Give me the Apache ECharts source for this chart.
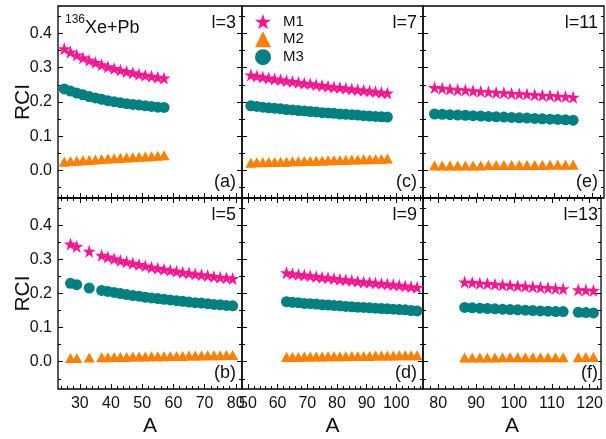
<!DOCTYPE html>
<html>
<head>
<meta charset="utf-8">
<script src="https://cdn.jsdelivr.net/npm/echarts@6/dist/echarts.min.js"></script>
<style>
  html, body { margin: 0; padding: 0; background: #fff; }
  #main { width: 606px; height: 439px; }
</style>
</head>
<body>
<div id="main"></div>
<script>
// A values and RCI for the three models, one set per panel
const aA = [25, 27, 29, 31, 33, 35, 37, 39, 41, 43, 45, 47, 49, 51, 53, 55, 57];
const m1A = [0.355, 0.346, 0.337, 0.329, 0.322, 0.315, 0.309, 0.303, 0.298, 0.293, 0.289, 0.285, 0.281, 0.278, 0.275, 0.272, 0.270];
const m2A = [0.026, 0.028, 0.029, 0.030, 0.031, 0.032, 0.034, 0.035, 0.036, 0.037, 0.038, 0.039, 0.040, 0.041, 0.042, 0.043, 0.045];
const m3A = [0.238, 0.232, 0.226, 0.221, 0.216, 0.212, 0.208, 0.204, 0.201, 0.198, 0.195, 0.193, 0.191, 0.189, 0.187, 0.185, 0.184];

const aB = [27, 29, 33, 37, 39, 41, 43, 45, 47, 49, 51, 53, 55, 57, 59, 61, 63, 65, 67, 69, 71, 73, 75, 77, 79];
const m1B = [0.345, 0.338, 0.324, 0.312, 0.307, 0.302, 0.297, 0.293, 0.289, 0.285, 0.281, 0.277, 0.274, 0.271, 0.268, 0.265, 0.262, 0.260, 0.257, 0.255, 0.253, 0.250, 0.248, 0.246, 0.244];
const m2B = [0.011, 0.011, 0.012, 0.013, 0.013, 0.014, 0.014, 0.014, 0.015, 0.015, 0.015, 0.016, 0.016, 0.016, 0.017, 0.017, 0.017, 0.018, 0.018, 0.018, 0.019, 0.019, 0.019, 0.020, 0.020];
const m3B = [0.230, 0.226, 0.216, 0.209, 0.206, 0.203, 0.200, 0.197, 0.194, 0.192, 0.189, 0.187, 0.185, 0.183, 0.181, 0.179, 0.177, 0.175, 0.173, 0.172, 0.170, 0.168, 0.167, 0.165, 0.164];

const aC = [51, 53, 55, 57, 59, 61, 63, 65, 67, 69, 71, 73, 75, 77, 79, 81, 83, 85, 87, 89, 91, 93, 95, 97];
const m1C = [0.279, 0.276, 0.273, 0.270, 0.267, 0.265, 0.262, 0.260, 0.257, 0.255, 0.253, 0.250, 0.248, 0.246, 0.244, 0.242, 0.240, 0.238, 0.236, 0.234, 0.232, 0.230, 0.228, 0.226];
const m2C = [0.023, 0.024, 0.024, 0.025, 0.025, 0.026, 0.026, 0.027, 0.027, 0.028, 0.028, 0.029, 0.029, 0.030, 0.030, 0.031, 0.031, 0.032, 0.032, 0.033, 0.033, 0.034, 0.034, 0.035];
const m3C = [0.189, 0.187, 0.185, 0.183, 0.182, 0.180, 0.178, 0.177, 0.175, 0.174, 0.172, 0.171, 0.169, 0.168, 0.167, 0.165, 0.164, 0.163, 0.162, 0.160, 0.159, 0.158, 0.157, 0.156];

const aD = [63, 65, 67, 69, 71, 73, 75, 77, 79, 81, 83, 85, 87, 89, 91, 93, 95, 97, 99, 101, 103, 105, 107];
const m1D = [0.261, 0.258, 0.256, 0.254, 0.252, 0.250, 0.248, 0.246, 0.244, 0.242, 0.240, 0.238, 0.236, 0.234, 0.233, 0.231, 0.229, 0.228, 0.226, 0.224, 0.222, 0.220, 0.218];
const m2D = [0.014, 0.014, 0.014, 0.015, 0.015, 0.015, 0.015, 0.016, 0.016, 0.016, 0.016, 0.017, 0.017, 0.017, 0.017, 0.018, 0.018, 0.018, 0.018, 0.019, 0.019, 0.019, 0.019];
const m3D = [0.176, 0.174, 0.173, 0.171, 0.170, 0.169, 0.167, 0.166, 0.165, 0.164, 0.162, 0.161, 0.160, 0.159, 0.158, 0.157, 0.156, 0.155, 0.154, 0.153, 0.152, 0.150, 0.149];

const aE = [79, 81, 83, 85, 87, 89, 91, 93, 95, 97, 99, 101, 103, 105, 107, 109, 111, 113, 115];
const m1E = [0.242, 0.240, 0.238, 0.236, 0.235, 0.233, 0.231, 0.230, 0.228, 0.227, 0.225, 0.224, 0.223, 0.221, 0.220, 0.219, 0.217, 0.216, 0.214];
const m2E = [0.015, 0.015, 0.015, 0.015, 0.015, 0.015, 0.015, 0.016, 0.016, 0.016, 0.016, 0.016, 0.016, 0.016, 0.016, 0.017, 0.017, 0.017, 0.017];
const m3E = [0.165, 0.164, 0.163, 0.162, 0.161, 0.160, 0.159, 0.158, 0.157, 0.156, 0.155, 0.154, 0.153, 0.152, 0.151, 0.150, 0.149, 0.148, 0.147];

const aF = [87, 89, 91, 93, 95, 97, 99, 101, 103, 105, 107, 109, 111, 113, 117, 119, 121];
const m1F = [0.234, 0.232, 0.230, 0.229, 0.227, 0.226, 0.224, 0.223, 0.221, 0.220, 0.218, 0.217, 0.215, 0.214, 0.211, 0.210, 0.209];
const m2F = [0.012, 0.012, 0.012, 0.012, 0.012, 0.013, 0.013, 0.013, 0.013, 0.013, 0.013, 0.013, 0.013, 0.013, 0.013, 0.014, 0.014];
const m3F = [0.159, 0.158, 0.157, 0.156, 0.155, 0.154, 0.153, 0.152, 0.151, 0.150, 0.149, 0.148, 0.147, 0.147, 0.145, 0.144, 0.143];

// axis ranges and ticks, one per column
const xRanges = [[23, 82], [48, 109], [76, 123]];
const xMajor = [[30, 40, 50, 60, 70, 80], [50, 60, 70, 80, 90, 100], [80, 90, 100, 110, 120]];
const yRange = [-0.08, 0.48];
const yMajor = [0, 0.1, 0.2, 0.3, 0.4];
const yMinor = [-0.05, 0.05, 0.15, 0.25, 0.35, 0.45];

const panels = [
  { row: 0, col: 0, a: aA, m1: m1A, m2: m2A, m3: m3A, l: 'l=3', tag: '(a)' },
  { row: 0, col: 1, a: aC, m1: m1C, m2: m2C, m3: m3C, l: 'l=7', tag: '(c)' },
  { row: 0, col: 2, a: aE, m1: m1E, m2: m2E, m3: m3E, l: 'l=11', tag: '(e)' },
  { row: 1, col: 0, a: aB, m1: m1B, m2: m2B, m3: m3B, l: 'l=5', tag: '(b)' },
  { row: 1, col: 1, a: aD, m1: m1D, m2: m2D, m3: m3D, l: 'l=9', tag: '(d)' },
  { row: 1, col: 2, a: aF, m1: m1F, m2: m2F, m3: m3F, l: 'l=13', tag: '(f)' }
];

const FONT = 'Liberation Sans, Arial, sans-serif';
const STAR = 'path://M50,0 L61.8,35.1 L98.1,35.1 L68.7,56.8 L79.4,91 L50,70 L20.6,91 L31.3,56.8 L1.9,35.1 L38.2,35.1 Z';
const PINK = '#FF1493', ORANGE = '#FF8000', TEAL = '#008080';

const colLeft = [58, 242, 423], colW = [184, 181, 181];
const rowTop = [6, 198], rowH = [192, 191];

const chart = echarts.init(document.getElementById('main'));

const grids = [], xAxes = [], yAxes = [], series = [], texts = [];

function minorsFor(col) {
  const out = [];
  const r = xRanges[col];
  for (let v = Math.ceil(r[0] / 2) * 2; v <= r[1]; v += 2) out.push(v);
  return out;
}

function xAxis(g, pos, col, ticks, len, withLabels) {
  return {
    type: 'value', gridIndex: g, position: pos,
    min: xRanges[col][0], max: xRanges[col][1],
    axisLine: { show: false, onZero: false },
    splitLine: { show: false },
    axisTick: { show: true, inside: true, length: len, customValues: ticks, lineStyle: { color: '#000', width: 1 } },
    axisLabel: withLabels
      ? { show: true, customValues: ticks, fontSize: 16, fontFamily: FONT, color: '#111', margin: 7 }
      : { show: false },
    name: withLabels ? 'A' : '',
    nameLocation: 'middle', nameGap: 27, nameMoveOverlap: false,
    nameTextStyle: { fontSize: 21, fontFamily: FONT, color: '#111' }
  };
}

function yAxis(g, pos, ticks, len, withLabels) {
  return {
    type: 'value', gridIndex: g, position: pos,
    min: yRange[0], max: yRange[1],
    axisLine: { show: false, onZero: false },
    splitLine: { show: false },
    axisTick: { show: true, inside: true, length: len, customValues: ticks, lineStyle: { color: '#000', width: 1 } },
    axisLabel: withLabels
      ? { show: true, customValues: ticks, fontSize: 16, fontFamily: FONT, color: '#111', margin: 6,
          formatter: v => v.toFixed(1) }
      : { show: false },
    name: withLabels ? 'RCI' : '',
    nameLocation: 'middle', nameGap: 24, nameMoveOverlap: false,
    nameTextStyle: { fontSize: 21, fontFamily: FONT, color: '#111' }
  };
}

panels.forEach((p, g) => {
  grids.push({
    left: colLeft[p.col], top: rowTop[p.row], width: colW[p.col], height: rowH[p.row],
    show: true, borderColor: '#000', borderWidth: 1.3, backgroundColor: 'transparent'
  });
  const xi = xAxes.length;
  xAxes.push(xAxis(g, 'bottom', p.col, xMajor[p.col], 5, p.row === 1));
  xAxes.push(xAxis(g, 'bottom', p.col, minorsFor(p.col), 3, false));
  if (p.row === 1) {
    xAxes.push(xAxis(g, 'top', p.col, xMajor[p.col], 5, false));
    xAxes.push(xAxis(g, 'top', p.col, minorsFor(p.col), 3, false));
  }
  const yi = yAxes.length;
  yAxes.push(yAxis(g, 'left', yMajor, 5, p.col === 0));
  yAxes.push(yAxis(g, 'left', yMinor, 3, false));
  yAxes.push(yAxis(g, 'right', yMajor, 5, false));
  yAxes.push(yAxis(g, 'right', yMinor, 3, false));

  const defs = [
    { name: 'M2', vals: p.m2, symbol: 'triangle', size: [11, 10], color: ORANGE },
    { name: 'M3', vals: p.m3, symbol: 'circle', size: 11, color: TEAL },
    { name: 'M1', vals: p.m1, symbol: STAR, size: 13, color: PINK }
  ];
  defs.forEach(d => {
    series.push({
      name: d.name, type: 'scatter', xAxisIndex: xi, yAxisIndex: yi,
      symbol: d.symbol, symbolSize: d.size,
      itemStyle: { color: d.color, opacity: 1 },
      data: p.a.map((a, i) => [a, d.vals[i]]),
      silent: true, animation: false
    });
  });

  const right = colLeft[p.col] + colW[p.col] - 6;
  texts.push({
    type: 'text', right: 606 - right, top: rowTop[p.row] + 8,
    style: { text: p.l, fontSize: 18, fontFamily: FONT, fill: '#111' }
  });
  texts.push({
    type: 'text', right: 606 - right, top: rowTop[p.row] + rowH[p.row] - 25,
    style: { text: p.tag, fontSize: 18, fontFamily: FONT, fill: '#111' }
  });
});

texts.push({
  type: 'text', left: 65, top: 14,
  style: { text: '136', fontSize: 12, fontFamily: FONT, fill: '#111' }
});
texts.push({
  type: 'text', left: 85, top: 19,
  style: { text: 'Xe+Pb', fontSize: 18, fontFamily: FONT, fill: '#111' }
});

const option = {
  backgroundColor: '#fff',
  animation: false,
  legend: {
    left: 255, top: 14, orient: 'vertical', padding: 0,
    itemWidth: 16, itemHeight: 16, itemGap: 2,
    textStyle: { fontSize: 15, fontFamily: FONT, color: '#111', padding: [0, 0, 0, 7] },
    data: [
      { name: 'M1', icon: STAR, itemStyle: { color: PINK } },
      { name: 'M2', icon: 'triangle', itemStyle: { color: ORANGE } },
      { name: 'M3', icon: 'circle', itemStyle: { color: TEAL } }
    ],
    selectedMode: false
  },
  grid: grids,
  xAxis: xAxes,
  yAxis: yAxes,
  series: series,
  graphic: texts
};
chart.setOption(option);
</script>
</body>
</html>
